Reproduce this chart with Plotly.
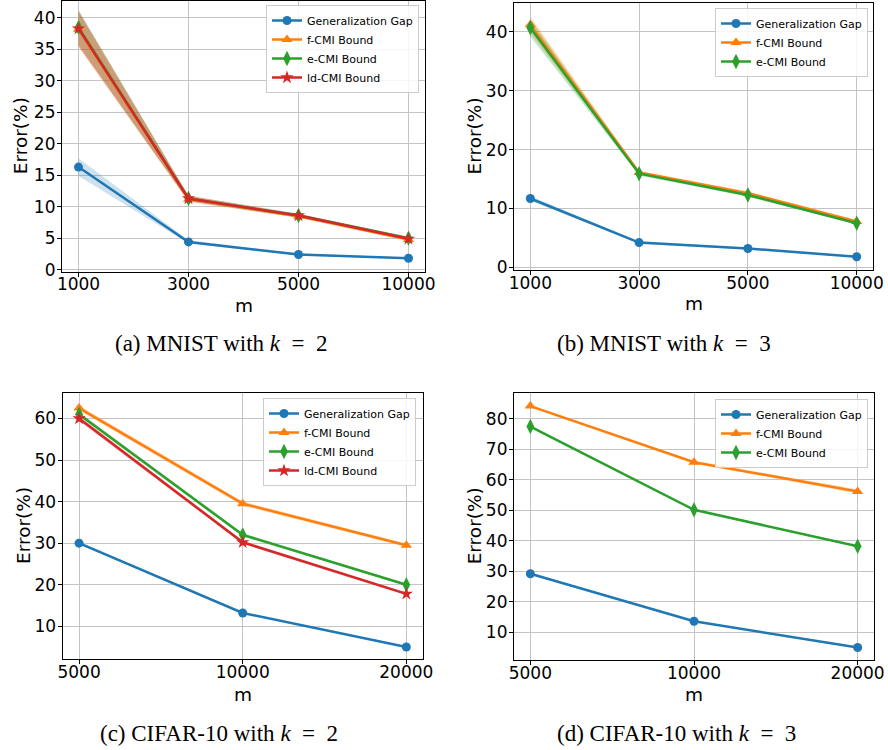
import plotly.graph_objects as go

# ---------------- data ----------------
series_names = ["Generalization Gap", "f-CMI Bound", "e-CMI Bound", "ld-CMI Bound"]

# (a) MNIST k=2
a_m = ["1000", "3000", "5000", "10000"]
a_gap = [16.3, 4.4, 2.4, 1.8]
a_gap_sd = [1.4, 0.25, 0.15, 0.12]
a_f = [38.2, 11.2, 8.5, 4.8]
a_f_sd = [2.8, 0.45, 0.3, 0.25]
a_e = [38.5, 11.3, 8.6, 5.0]
a_e_sd = [2.8, 0.45, 0.3, 0.25]
a_ld = [38.3, 11.3, 8.6, 4.9]
a_ld_sd = [2.8, 0.45, 0.3, 0.25]

# (b) MNIST k=3
b_m = ["1000", "3000", "5000", "10000"]
b_gap = [11.7, 4.2, 3.2, 1.8]
b_gap_sd = [0.4, 0.2, 0.15, 0.1]
b_f = [41.2, 16.1, 12.6, 7.8]
b_f_sd = [1.4, 0.3, 0.3, 0.2]
b_e = [40.7, 15.9, 12.3, 7.5]
b_e_sd = [1.5, 0.3, 0.3, 0.2]

# (c) CIFAR-10 k=2
c_m = ["5000", "10000", "20000"]
c_gap = [30.0, 13.2, 5.0]
c_gap_sd = [0.3, 0.2, 0.15]
c_f = [62.5, 39.5, 29.5]
c_f_sd = [0.6, 0.5, 0.4]
c_e = [61.0, 32.0, 20.0]
c_e_sd = [0.5, 0.4, 0.3]
c_ld = [60.0, 30.2, 17.8]
c_ld_sd = [0.6, 0.4, 0.3]

# (d) CIFAR-10 k=3
d_m = ["5000", "10000", "20000"]
d_gap = [29.2, 13.6, 5.0]
d_gap_sd = [0.3, 0.2, 0.15]
d_f = [84.2, 65.8, 56.2]
d_f_sd = [0.4, 0.4, 0.7]
d_e = [77.5, 50.2, 38.2]
d_e_sd = [0.4, 0.3, 0.3]

captions = ["(a) MNIST with <i>k</i>&nbsp; = &nbsp;2", "(b) MNIST with <i>k</i>&nbsp; = &nbsp;3",
            "(c) CIFAR-10 with <i>k</i>&nbsp; = &nbsp;2", "(d) CIFAR-10 with <i>k</i>&nbsp; = &nbsp;3"]

# ---------------- styles ----------------
colors = ["#1f77b4", "#ff7f0e", "#2ca02c", "#d62728"]
fills = ["rgba(31,119,180,0.22)", "rgba(255,127,14,0.27)", "rgba(44,160,44,0.27)", "rgba(214,39,40,0.27)"]
symbols = ["circle", "triangle-up", "diamond-tall", "star"]
msize = [9, 10, 11, 10]

W, H = 888, 750
def px(v, total):
    return v / total

panels = [
    dict(m=a_m, ys=[a_gap, a_f, a_e, a_ld], sds=[a_gap_sd, a_f_sd, a_e_sd, a_ld_sd],
         xd=[62, 425], yd=[1, 271.5], yr=[-0.3, 42.7], dt=5,
         leg=dict(x=419, y=5), ytitle_x=20, mtitle_y=305, cap=(221, 343)),
    dict(m=b_m, ys=[b_gap, b_f, b_e], sds=[b_gap_sd, b_f_sd, b_e_sd],
         xd=[514, 873], yd=[3, 270], yr=[-0.45, 44.9], dt=10,
         leg=dict(x=868, y=8), ytitle_x=474, mtitle_y=303, cap=(664, 343)),
    dict(m=c_m, ys=[c_gap, c_f, c_e, c_ld], sds=[c_gap_sd, c_f_sd, c_e_sd, c_ld_sd],
         xd=[62.7, 422.7], yd=[392.7, 659.3], yr=[2.05, 66.2], dt=10,
         leg=dict(x=416, y=398), ytitle_x=23, mtitle_y=694, cap=(219, 733)),
    dict(m=d_m, ys=[d_gap, d_f, d_e], sds=[d_gap_sd, d_f_sd, d_e_sd],
         xd=[514, 874], yd=[392.7, 660], yr=[0.9, 88.6], dt=10,
         leg=dict(x=868, y=399), ytitle_x=474, mtitle_y=694, cap=(676, 733)),
]

fig = go.Figure()
annotations = []
layout = {}

for p_i, p in enumerate(panels):
    ax = "" if p_i == 0 else str(p_i + 1)
    xref, yref = "x" + ax, "y" + ax
    legname = "legend" + ("" if p_i == 0 else str(p_i + 1))
    xs = list(range(len(p["m"])))
    for s_i, (y, sd) in enumerate(zip(p["ys"], p["sds"])):
        up = [v + e for v, e in zip(y, sd)]
        lo = [v - e for v, e in zip(y, sd)]
        fig.add_trace(go.Scatter(x=xs + xs[::-1], y=up + lo[::-1], fill="toself",
                                 fillcolor=fills[s_i], line=dict(width=0), mode="lines",
                                 showlegend=False, hoverinfo="skip", xaxis=xref, yaxis=yref))
    for s_i, y in enumerate(p["ys"]):
        fig.add_trace(go.Scatter(x=xs, y=y, mode="lines+markers", name=series_names[s_i],
                                 line=dict(color=colors[s_i], width=2.5),
                                 marker=dict(symbol=symbols[s_i], size=msize[s_i], color=colors[s_i]),
                                 xaxis=xref, yaxis=yref, legend=legname))
    n = len(p["m"])
    pad = 0.05 * (n - 1)
    axis_common = dict(showline=True, linecolor="black", linewidth=1.2, mirror=True,
                       ticks="outside", ticklen=4, tickcolor="black", tickwidth=1.2,
                       showgrid=True, gridcolor="#c4c4c4", gridwidth=1.2, zeroline=False,
                       automargin=False,
                       tickfont=dict(family="DejaVu Sans", size=17, color="black"))
    layout["xaxis" + ax] = dict(axis_common, domain=[px(p["xd"][0], W), px(p["xd"][1], W)],
                                range=[-pad, n - 1 + pad], tickmode="array", tickvals=xs,
                                ticktext=p["m"], anchor=yref, ticklabelstandoff=-7)
    layout["yaxis" + ax] = dict(axis_common, domain=[1 - px(p["yd"][1], H), 1 - px(p["yd"][0], H)],
                                range=p["yr"], dtick=p["dt"], tick0=0, anchor=xref,
                                ticklabelstandoff=-2)
    layout[legname] = dict(x=px(p["leg"]["x"], W), y=1 - px(p["leg"]["y"], H),
                           xanchor="right", yanchor="top", xref="paper", yref="paper",
                           bgcolor="rgba(255,255,255,0.85)", bordercolor="#cccccc", borderwidth=1,
                           font=dict(family="DejaVu Sans", size=11, color="black"),
                           itemwidth=30, tracegroupgap=0)
    ymid = 1 - px((p["yd"][0] + p["yd"][1]) / 2, H)
    annotations.append(dict(text="Error(%)", x=px(p["ytitle_x"], W), y=ymid, xref="paper", yref="paper",
                            showarrow=False, textangle=-90, xanchor="center", yanchor="middle",
                            font=dict(family="DejaVu Sans", size=18.5, color="black")))
    annotations.append(dict(text="m", x=px((p["xd"][0] + p["xd"][1]) / 2, W), y=1 - px(p["mtitle_y"], H),
                            xref="paper", yref="paper", showarrow=False, xanchor="center", yanchor="middle",
                            font=dict(family="DejaVu Sans", size=18.5, color="black")))
    annotations.append(dict(text=captions[p_i], x=px(p["cap"][0], W), y=1 - px(p["cap"][1], H),
                            xref="paper", yref="paper", showarrow=False, xanchor="center", yanchor="middle",
                            font=dict(family="Liberation Serif", size=23, color="black")))

fig.update_layout(**layout)
fig.update_layout(width=W, height=H, margin=dict(l=0, r=0, t=0, b=0),
                  plot_bgcolor="white", paper_bgcolor="white", annotations=annotations,
                  showlegend=True)
fig.write_html("out.html", config={"displayModeBar": False},
               post_script="document.body.style.margin='0';document.body.style.overflow='hidden';")
